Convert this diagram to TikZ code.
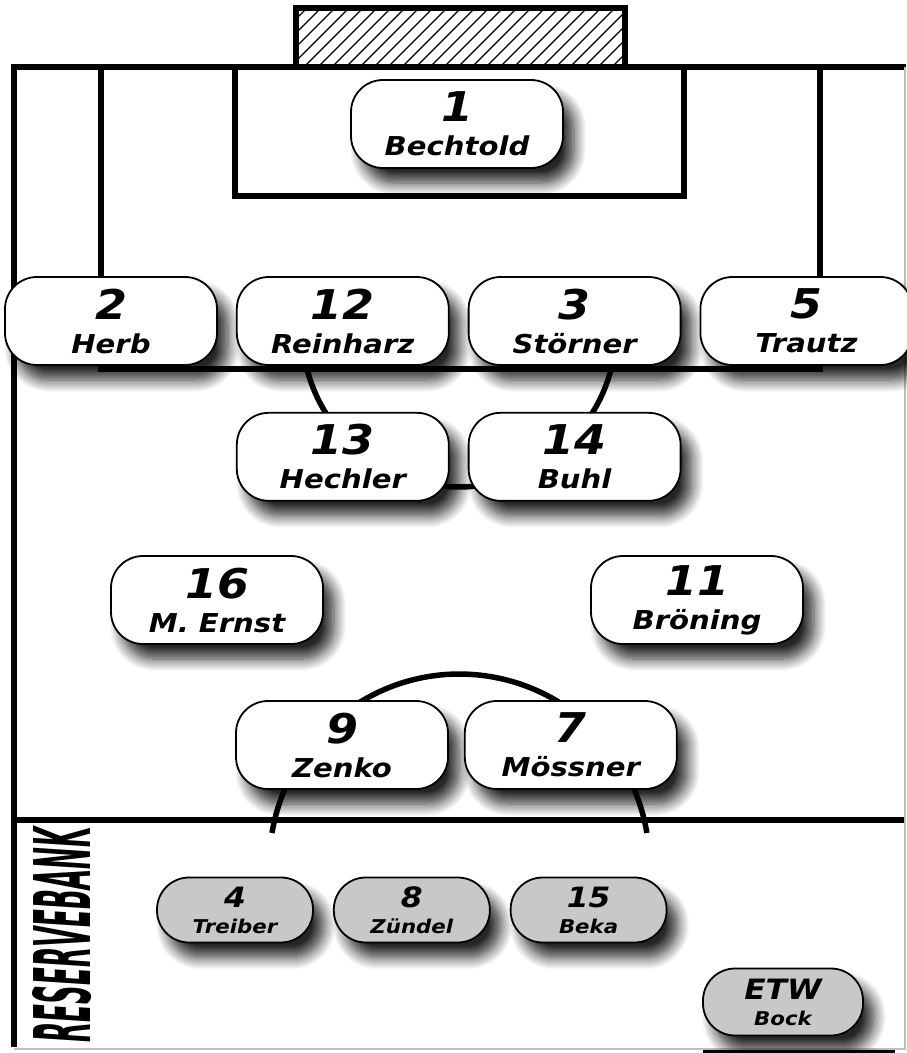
\documentclass[tikz,border=0pt]{standalone}
\usepackage{fontspec}
\newfontfamily\playerfont{DejaVu Sans}[FakeStretch=1.12]
\usetikzlibrary{positioning, shadows.blur}
\definecolor{benchgrey}{RGB}{200,200,200}
\newcommand\nr[1]{{\fontsize{41}{34}\selectfont #1}}
\newcommand\rnr[1]{{\fontsize{28}{26}\selectfont #1}}
\tikzset{
  pitchline/.style={line width=5.5pt},
  hatch/.style={line width=1.1pt},
  player/.style={rectangle, rounded corners=32pt, draw, line width=1.8pt, fill=white, minimum width=212pt, minimum height=88pt, align=center, inner sep=0pt, font=\playerfont\bfseries\itshape\fontsize{26}{34}\selectfont, blur shadow={shadow xshift=11pt, shadow yshift=-15pt, shadow blur radius=12pt, shadow blur steps=12, shadow opacity=85}},
  reserve/.style={player, fill=benchgrey, minimum width=156pt, minimum height=65pt, font=\playerfont\bfseries\itshape\fontsize{19}{26}\selectfont},
}
\begin{document}
\begin{tikzpicture}[x=1pt, y=1pt, node distance=18pt]
\useasboundingbox (0,0) rectangle (906,-1053);

  % Pitch
  \begin{scope}
    \clip (296,-8) rectangle (625,-67);
    \foreach \h in {220,234,...,640}
      \draw[hatch] (\h,-67) -- ++(59,59);
  \end{scope}
  \draw[pitchline] (296,-67) |- (625,-8) -- (625,-67);
  \draw[pitchline] (906,-67) -- (14,-67) -- (14,-1047);
  \draw[pitchline] (235,-67) |- (684,-196) -- (684,-67);
  \draw[pitchline] (101,-67) |- (820,-369) -- (820,-67);
  \draw[pitchline] (307,-369) arc[start angle=194.4, end angle=345.6, radius=157];
  \draw[pitchline] (14,-820) -- (906,-820);
  \draw[pitchline] (272,-833) arc[start angle=170.6, end angle=9.4, radius=190];
  \draw[gray!50, line width=1.5pt] (905,-67) |- (14,-1049);
  \draw[line width=3pt] (703,-1051) -- (895,-1051);

  % Players
  \node[player] (bechtold) at (457,-124) {\nr{1}\\Bechtold};
  \node[player] (herb) at (111,-321) {\nr{2}\\Herb};
  \node[player, right=of herb] (reinharz) {\nr{12}\\Reinharz};
  \node[player, right=of reinharz] (stoerner) {\nr{3}\\Störner};
  \node[player, right=of stoerner] (trautz) {\nr{5}\\Trautz};
  \node[player, below=46pt of reinharz] (hechler) {\nr{13}\\Hechler};
  \node[player, right=of hechler] (buhl) {\nr{14}\\Buhl};
  \node[player] (ernst) at (217,-600) {\nr{16}\\M. Ernst};
  \node[player] (broening) at (697,-600) {\nr{11}\\Bröning};
  \node[player] (zenko) at (342,-745) {\nr{9}\\Zenko};
  \node[player, right=15pt of zenko] (moessner) {\nr{7}\\Mössner};

  % Bench
  \node[rotate=90, inner sep=0pt] (bank) at (62,-935) {\resizebox{215pt}{58pt}{\playerfont\bfseries\itshape RESERVEBANK}};
  \node[reserve] (treiber) at (235,-910) {\rnr{4}\\Treiber};
  \node[reserve, right=19pt of treiber] (zuendel) {\rnr{8}\\Zündel};
  \node[reserve, right=19pt of zuendel] (beka) {\rnr{15}\\Beka};
  \node[reserve, minimum width=160pt, minimum height=67pt] (bock) at (783,-1002) {\rnr{ETW}\\Bock};

\end{tikzpicture}
\end{document}
